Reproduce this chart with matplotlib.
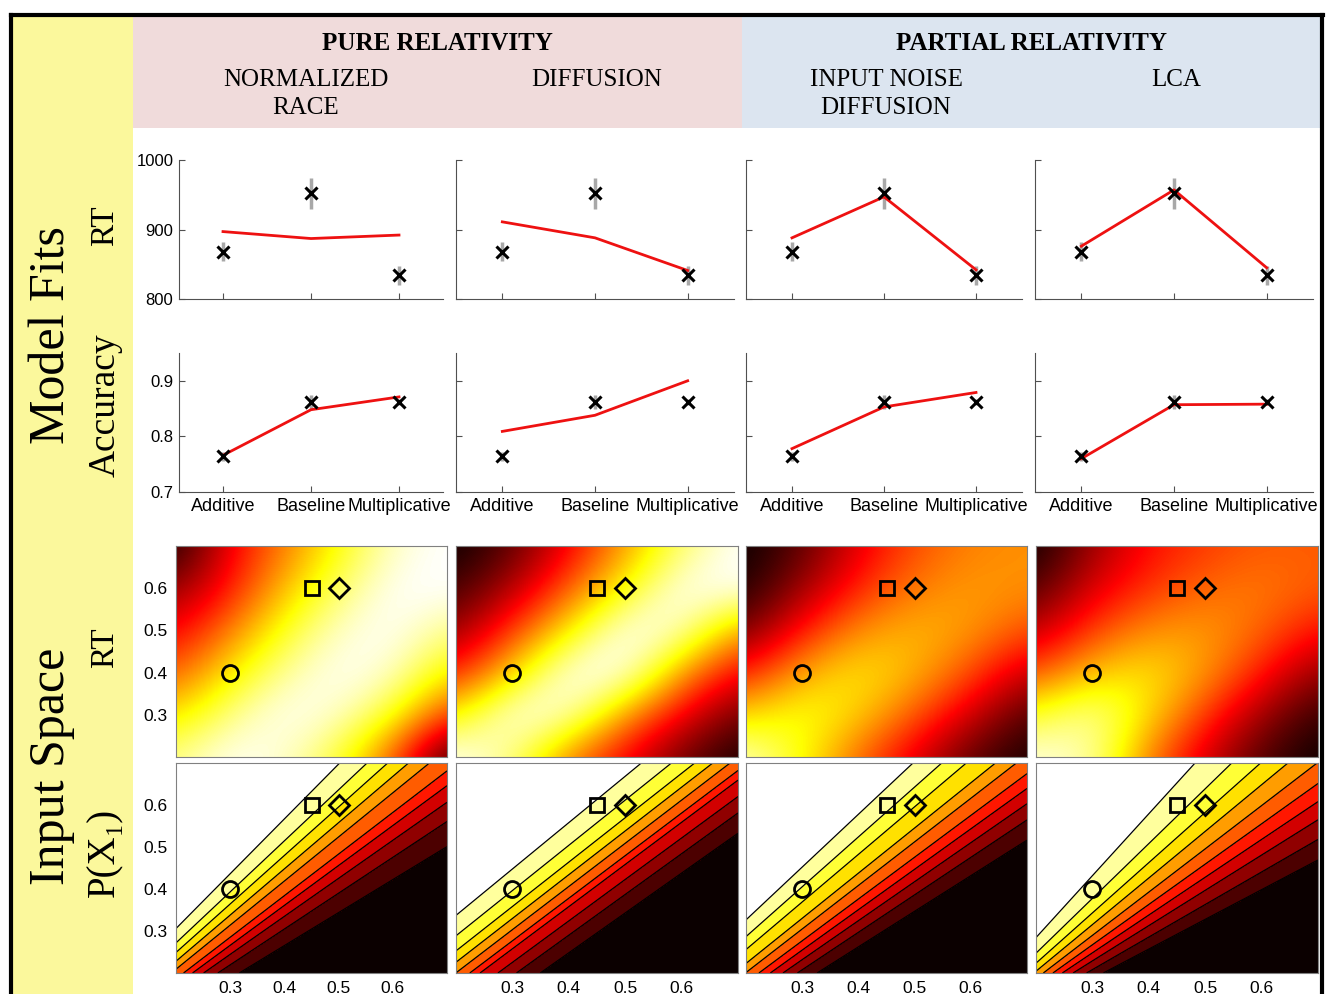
import numpy as np
import matplotlib
matplotlib.use("Agg")
import matplotlib.pyplot as plt
from matplotlib.patches import Rectangle
from matplotlib.lines import Line2D

# ---------------- data ----------------
conditions = ["Additive", "Baseline", "Multiplicative"]
model_names = ["NORMALIZED\nRACE", "DIFFUSION", "INPUT NOISE\nDIFFUSION", "LCA"]

# observed data (same in every column)
rt_obs = [868, 952, 834]
rt_err = [14, 22, 14]
acc_obs = [0.764, 0.862, 0.862]
acc_err = [0.008, 0.012, 0.006]

# model fits
rt_fit_race = [897, 887, 892]
rt_fit_diffusion = [911, 888, 841]
rt_fit_noise = [888, 947, 842]
rt_fit_lca = [876, 957, 845]
acc_fit_race = [0.766, 0.848, 0.871]
acc_fit_diffusion = [0.809, 0.838, 0.900]
acc_fit_noise = [0.778, 0.853, 0.879]
acc_fit_lca = [0.760, 0.857, 0.858]

# stimulus locations in input space
stim_x = [0.30, 0.45, 0.50]
stim_y = [0.40, 0.60, 0.60]
stim_marker = ["o", "s", "D"]
stim_size = [11.5, 10, 10]

# RT maps, coarse grid (rows: y = 0.7 -> 0.2, cols: x = 0.2 -> 0.7), 0 = black, 1 = white
map_x = [0.2, 0.3, 0.4, 0.5, 0.6, 0.7]
map_y = [0.7, 0.6, 0.5, 0.4, 0.3, 0.2]
rt_map_race = [[0.02, 0.35, 0.55, 0.75, 0.95, 1.00],
               [0.20, 0.40, 0.65, 0.85, 1.00, 1.00],
               [0.35, 0.55, 0.78, 0.95, 1.00, 0.88],
               [0.50, 0.72, 0.90, 1.00, 0.95, 0.72],
               [0.70, 0.88, 1.00, 0.95, 0.78, 0.45],
               [0.88, 1.00, 0.95, 0.80, 0.50, 0.05]]
rt_map_diffusion = [[0.00, 0.12, 0.35, 0.60, 0.85, 1.00],
                    [0.08, 0.25, 0.50, 0.75, 1.00, 1.00],
                    [0.20, 0.45, 0.72, 1.00, 0.95, 0.60],
                    [0.40, 0.68, 1.00, 1.00, 0.60, 0.35],
                    [0.72, 1.00, 0.95, 0.60, 0.35, 0.15],
                    [1.00, 0.88, 0.55, 0.35, 0.15, 0.02]]
rt_map_noise = [[0.00, 0.12, 0.33, 0.48, 0.56, 0.58],
                [0.03, 0.22, 0.42, 0.55, 0.60, 0.58],
                [0.15, 0.40, 0.58, 0.64, 0.60, 0.48],
                [0.40, 0.62, 0.72, 0.64, 0.48, 0.28],
                [0.68, 0.78, 0.68, 0.50, 0.30, 0.10],
                [0.95, 0.75, 0.52, 0.32, 0.12, 0.02]]
rt_map_lca = [[0.00, 0.22, 0.38, 0.45, 0.50, 0.50],
              [0.10, 0.32, 0.44, 0.52, 0.55, 0.50],
              [0.26, 0.46, 0.58, 0.60, 0.52, 0.38],
              [0.48, 0.66, 0.72, 0.60, 0.40, 0.20],
              [0.78, 0.92, 0.70, 0.45, 0.22, 0.06],
              [0.97, 0.92, 0.55, 0.30, 0.10, 0.00]]

# P(X1) maps: contour lines are rays from an apex; levels are the ray slopes
p_apex_race = (-0.18, -0.19)
p_levels_race = [0.785, 0.853, 0.905, 0.95, 0.99, 1.05, 1.10, 1.155, 1.215, 1.305]
p_apex_diffusion = (-1.6, -1.65)
p_levels_diffusion = [0.949, 0.970, 0.987, 1.004, 1.014, 1.028, 1.042, 1.057, 1.077, 1.104]
p_apex_noise = (-0.37, -0.39)
p_levels_noise = [0.847, 0.892, 0.928, 0.962, 0.995, 1.037, 1.075, 1.133, 1.187, 1.257]
p_apex_lca = (-0.02, -0.04)
p_levels_lca = [0.707, 0.775, 0.84, 0.90, 0.96, 1.03, 1.11, 1.197, 1.305, 1.474]

rt_fits = [rt_fit_race, rt_fit_diffusion, rt_fit_noise, rt_fit_lca]
acc_fits = [acc_fit_race, acc_fit_diffusion, acc_fit_noise, acc_fit_lca]
rt_maps = [rt_map_race, rt_map_diffusion, rt_map_noise, rt_map_lca]
p_apexes = [p_apex_race, p_apex_diffusion, p_apex_noise, p_apex_lca]
p_levels = [p_levels_race, p_levels_diffusion, p_levels_noise, p_levels_lca]

# ---------------- layout (pixels of the 1326x994 original) ----------------
W, H = 1326, 994
line_cols = [(179, 443), (456, 734), (746, 1022), (1035, 1313)]
map_cols = [(176, 447), (456, 738), (746, 1027), (1036, 1318)]
SERIF = ["Liberation Serif", "DejaVu Serif"]

plt.rcParams["font.family"] = ["Liberation Sans", "DejaVu Sans"]


def box(left, top, right, bottom):
    """pixel box -> figure fraction rect"""
    return [left / W, 1 - bottom / H, (right - left) / W, (bottom - top) / H]


def fx(px):
    return px / W


def fy(py):
    return 1 - py / H


fig = plt.figure(figsize=(W / 100, H / 100), dpi=100)

# background panels
fig.patches.append(Rectangle((fx(12), 0), fx(133) - fx(12), fy(15), transform=fig.transFigure,
                             facecolor="#fbf89c", edgecolor="none", zorder=0))
fig.patches.append(Rectangle((fx(133), fy(128)), fx(742) - fx(133), fy(15) - fy(128),
                             transform=fig.transFigure, facecolor="#f0dbdb", edgecolor="none", zorder=0))
fig.patches.append(Rectangle((fx(742), fy(128)), fx(1320) - fx(742), fy(15) - fy(128),
                             transform=fig.transFigure, facecolor="#dce5f0", edgecolor="none", zorder=0))
# outer frame
for xs, ys in [((11, 1323), (15, 15)), ((11, 11), (15, 994)), ((1322, 1322), (15, 994))]:
    fig.lines.append(Line2D([fx(x) for x in xs], [fy(y) for y in ys], transform=fig.transFigure,
                            color="black", lw=3))

# header text
fig.text(fx(437), fy(43), "PURE RELATIVITY", family=SERIF, fontsize=18, fontweight="bold",
         ha="center", va="center")
fig.text(fx(1032), fy(43), "PARTIAL RELATIVITY", family=SERIF, fontsize=18, fontweight="bold",
         ha="center", va="center")
name_x = [306, 597, 886, 1176]
for nx, name in zip(name_x, model_names):
    fig.text(fx(nx), fy(69), name, family=SERIF, fontsize=18, ha="center", va="top",
             linespacing=1.38)

# side labels
fig.text(fx(52), fy(335), "Model Fits", family=SERIF, fontsize=36, rotation=90, ha="center", va="center")
fig.text(fx(52), fy(766), "Input Space", family=SERIF, fontsize=36, rotation=90, ha="center", va="center")
fig.text(fx(105), fy(226), "RT", family=SERIF, fontsize=24, rotation=90, ha="center", va="center")
fig.text(fx(105), fy(405), "Accuracy", family=SERIF, fontsize=27, rotation=90, ha="center", va="center")
fig.text(fx(105), fy(648), "RT", family=SERIF, fontsize=24, rotation=90, ha="center", va="center")
fig.text(fx(105), fy(852), "P(X\u2081)", family=SERIF, fontsize=28, rotation=90, ha="center", va="center")

xpos = np.arange(1, len(conditions) + 1)
axis_grey = "#505050"


def style_line_axes(ax):
    ax.spines["top"].set_visible(False)
    ax.spines["right"].set_visible(False)
    for s in ["left", "bottom"]:
        ax.spines[s].set_color(axis_grey)
    ax.tick_params(direction="in", length=4, color=axis_grey, labelsize=12, pad=4)
    ax.tick_params(axis="x", labelsize=13)
    ax.set_xlim(0.5, 3.5)
    ax.set_xticks(xpos)
    ax.patch.set_alpha(0)


# ---- model fit rows ----
for i in range(4):
    left, right = line_cols[i]

    ax = fig.add_axes(box(left, 160, right, 299))
    style_line_axes(ax)
    ax.errorbar(xpos, rt_obs, yerr=rt_err, fmt="none", ecolor="#a8a8a8", elinewidth=2.5, capsize=0)
    ax.plot(xpos, rt_fits[i], color="#ee1111", lw=2)
    ax.plot(xpos, rt_obs, "x", color="black", ms=8.5, mew=2.2)
    ax.set_ylim(800, 1000)
    ax.set_yticks([800, 900, 1000])
    ax.set_xticklabels([])
    if i > 0:
        ax.set_yticklabels([])

    ax = fig.add_axes(box(left, 353, right, 492))
    style_line_axes(ax)
    ax.errorbar(xpos, acc_obs, yerr=acc_err, fmt="none", ecolor="#a8a8a8", elinewidth=2.5, capsize=0)
    ax.plot(xpos, acc_fits[i], color="#ee1111", lw=2)
    ax.plot(xpos, acc_obs, "x", color="black", ms=8.5, mew=2.2)
    ax.set_ylim(0.7, 0.95)
    ax.set_yticks([0.7, 0.8, 0.9])
    ax.set_xticklabels(conditions)
    if i > 0:
        ax.set_yticklabels([])


def style_map_axes(ax, show_x, show_y):
    for s in ax.spines.values():
        s.set_color("#808080")
    ax.set_xlim(0.2, 0.7)
    ax.set_ylim(0.2, 0.7)
    ax.set_xticks([0.3, 0.4, 0.5, 0.6])
    ax.set_yticks([0.3, 0.4, 0.5, 0.6])
    ax.tick_params(length=0, labelsize=12.5, pad=6)
    if not show_x:
        ax.set_xticklabels([])
    if not show_y:
        ax.set_yticklabels([])


def draw_stimuli(ax):
    for sx, sy, m, ms in zip(stim_x, stim_y, stim_marker, stim_size):
        ax.plot(sx, sy, marker=m, ms=ms, mfc="none", mec="black", mew=2, zorder=5)


half = (map_x[1] - map_x[0]) / 2
gx, gy = np.meshgrid(np.linspace(0.2, 0.7, 400), np.linspace(0.2, 0.7, 400))
band_colors = [plt.cm.hot(k / 10) for k in range(11)]

# ---- input space rows ----
for i in range(4):
    left, right = map_cols[i]

    ax = fig.add_axes(box(left, 546, right, 757))
    ax.imshow(np.array(rt_maps[i]), cmap="hot", vmin=0, vmax=1, origin="upper", aspect="auto",
              interpolation="bicubic",
              extent=[map_x[0] - half, map_x[-1] + half, map_y[-1] - half, map_y[0] + half])
    draw_stimuli(ax)
    style_map_axes(ax, False, i == 0)

    ax = fig.add_axes(box(left, 763, right, 973))
    ax0, ay0 = p_apexes[i]
    slope = (gy - ay0) / (gx - ax0)
    ax.contourf(gx, gy, slope, levels=[-100] + p_levels[i] + [100], colors=band_colors)
    ax.contour(gx, gy, slope, levels=p_levels[i], colors="black", linewidths=0.9)
    draw_stimuli(ax)
    style_map_axes(ax, True, i == 0)

fig.savefig("out.png", dpi=100, facecolor="white")
